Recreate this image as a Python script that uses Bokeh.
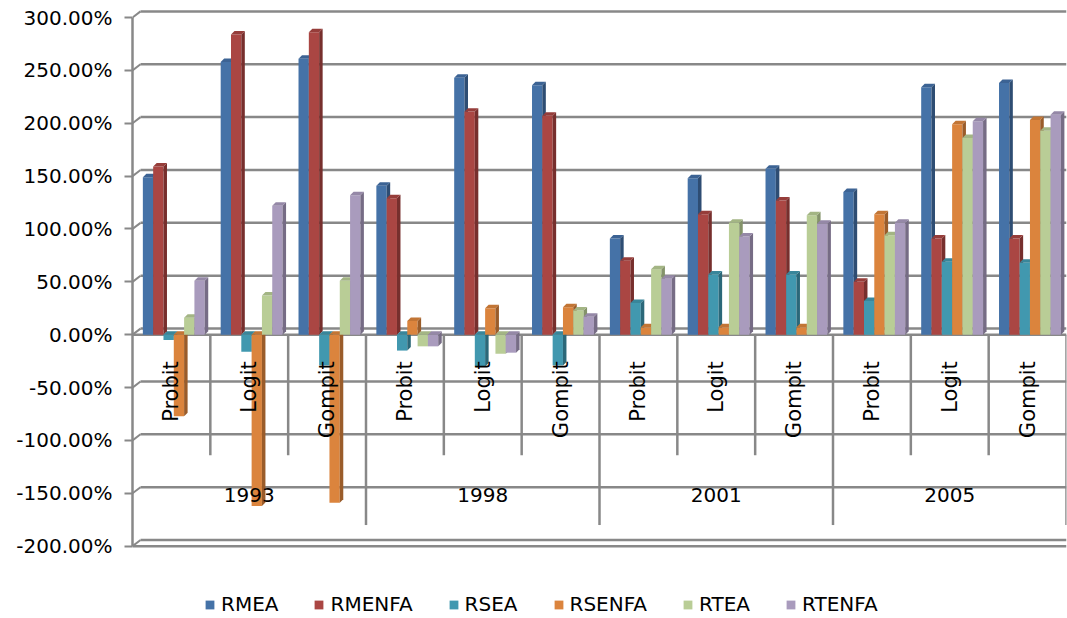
import math
from bokeh.plotting import figure
from bokeh.models import Range1d, FixedTicker, NumeralTickFormatter, Legend, LegendItem
from bokeh.core.properties import value
from bokeh.embed import file_html
from bokeh.resources import INLINE

# ---------------- data ----------------
years = ["1993", "1998", "2001", "2005"]
methods = ["Probit", "Logit", "Gompit"]
series_names = ["RMEA", "RMENFA", "RSEA", "RSENFA", "RTEA", "RTENFA"]

rmea = [1.49, 2.58, 2.61, 1.41, 2.43, 2.36, 0.91, 1.48, 1.57, 1.35, 2.34, 2.38]
rmenfa = [1.59, 2.84, 2.86, 1.29, 2.11, 2.07, 0.70, 1.14, 1.27, 0.50, 0.91, 0.91]
rsea = [-0.05, -0.16, -0.29, -0.15, -0.30, -0.29, 0.30, 0.57, 0.57, 0.32, 0.69, 0.68]
rsenfa = [-0.77, -1.62, -1.59, 0.13, 0.25, 0.26, 0.07, 0.07, 0.07, 1.14, 1.99, 2.03]
rtea = [0.16, 0.37, 0.51, -0.11, -0.18, 0.23, 0.62, 1.06, 1.13, 0.94, 1.86, 1.93]
rtenfa = [0.51, 1.22, 1.32, -0.11, -0.17, 0.17, 0.53, 0.93, 1.05, 1.06, 2.02, 2.08]

y_ticks = [-2.0, -1.5, -1.0, -0.5, 0.0, 0.5, 1.0, 1.5, 2.0, 2.5, 3.0]

series_values = [rmea, rmenfa, rsea, rsenfa, rtea, rtenfa]
front_colors = ["#4572A7", "#AA4643", "#4198AF", "#DB843D", "#B9CD96", "#A99BBD"]
side_colors = ["#2E4D73", "#772F2D", "#2B6879", "#9A5C2A", "#84936A", "#766C85"]
top_colors = ["#3C6394", "#963D3A", "#39869A", "#C27535", "#A3B584", "#9588A7"]

FONT = "DejaVu Sans"
GRID = "#888888"

n_cat = len(years) * len(methods)

p = figure(width=1067, height=618, output_backend="svg", toolbar_location=None,
           x_range=Range1d(0, n_cat), y_range=Range1d(-2.684, 3.161),
           x_axis_location=None, min_border_left=132, min_border_right=1,
           min_border_top=0, min_border_bottom=0)
p.outline_line_color = None
p.grid.visible = False
p.background_fill_color = "white"

# 3D offsets (data units)
BX, BY = 0.103, 0.058      # back wall offset
DX, DY = 0.045, 0.033      # bar depth

# back-wall gridlines and left wall diagonals
p.segment(x0=[BX] * len(y_ticks), y0=[t + BY for t in y_ticks],
          x1=[n_cat] * len(y_ticks), y1=[t + BY for t in y_ticks],
          line_color=GRID, line_width=2.5)
p.segment(x0=[0] * len(y_ticks), y0=y_ticks,
          x1=[BX] * len(y_ticks), y1=[t + BY for t in y_ticks],
          line_color=GRID, line_width=2)
# front category axis at zero and floor front edge
p.segment(x0=[0, 0], y0=[0, y_ticks[0]], x1=[n_cat, n_cat], y1=[0, y_ticks[0]],
          line_color=GRID, line_width=2.5)

# category table dividers
method_div = [i for i in range(1, n_cat) if i % len(methods) != 0]
year_div = [i for i in range(len(methods), n_cat + 1, len(methods))]
p.segment(x0=method_div, y0=[0] * len(method_div), x1=method_div, y1=[-1.14] * len(method_div),
          line_color=GRID, line_width=2.5)
p.segment(x0=year_div, y0=[0] * len(year_div), x1=year_div, y1=[-1.80] * len(year_div),
          line_color=GRID, line_width=2.5)

# bars
W = 0.1325
START = 0.133
legend_items = []
for k, (name, vals) in enumerate(zip(series_names, series_values)):
    lefts = [i + START + k * W for i in range(n_cat)]
    rights = [l + W for l in lefts]
    tops = [max(v, 0) for v in vals]
    bots = [min(v, 0) for v in vals]
    r = p.quad(left=lefts, right=rights, bottom=bots, top=tops,
               fill_color=front_colors[k], line_color=None)
    side_xs = [[xr, xr + DX, xr + DX, xr] for xr in rights]
    side_ys = [[b, b + DY, t + DY, t] for b, t in zip(bots, tops)]
    p.patches(xs=side_xs, ys=side_ys, fill_color=side_colors[k], line_color=None)
    top_xs = [[xl, xl + DX, xr + DX, xr] for xl, xr in zip(lefts, rights)]
    top_ys = [[t, t + DY, t + DY, t] for t in tops]
    p.patches(xs=top_xs, ys=top_ys, fill_color=top_colors[k], line_color=None)
    legend_items.append(LegendItem(label=name, renderers=[r]))

# category labels
p.text(x=[i + 0.5 for i in range(n_cat)], y=[-0.25] * n_cat,
       text=[methods[i % len(methods)] for i in range(n_cat)],
       angle=math.pi / 2, text_align="right", text_baseline="middle",
       text_font=value(FONT), text_font_size="21px", text_color="black")
p.text(x=[len(methods) * (j + 0.5) for j in range(len(years))], y=[-1.52] * len(years),
       text=years, text_align="center", text_baseline="middle",
       text_font=value(FONT), text_font_size="20px", text_color="black")

# y axis
ax = p.yaxis[0]
ax.ticker = FixedTicker(ticks=y_ticks)
ax.bounds = (y_ticks[0], y_ticks[-1])
ax.formatter = NumeralTickFormatter(format="0.00%")
ax.axis_line_color = GRID
ax.axis_line_width = 2.5
ax.major_tick_line_color = GRID
ax.major_tick_line_width = 2
ax.major_tick_out = 8
ax.major_tick_in = 0
ax.minor_tick_line_color = None
ax.major_label_standoff = 12
ax.major_label_text_font = FONT
ax.major_label_text_font_size = "20px"
ax.major_label_text_color = "black"

legend = Legend(items=legend_items, orientation="horizontal", location=(72, 2),
                spacing=35, label_standoff=6, glyph_width=11, glyph_height=11,
                padding=0, margin=0, border_line_color=None, background_fill_alpha=0,
                label_text_font=FONT, label_text_font_size="20px", label_text_color="black")
p.add_layout(legend, "center")

open("out.html", "w").write(file_html(p, INLINE))
